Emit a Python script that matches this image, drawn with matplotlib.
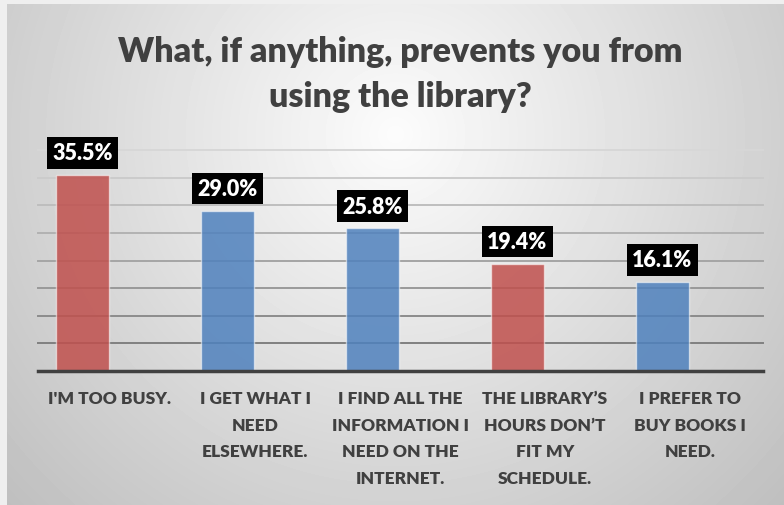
import numpy as np
import matplotlib.pyplot as plt
from matplotlib.colors import to_rgba

plt.rcParams['font.family'] = ['Lato', 'DejaVu Sans']

# data survey
categories = [
    "I'M TOO BUSY.",
    "I GET WHAT I\nNEED\nELSEWHERE.",
    "I FIND ALL THE\nINFORMATION I\nNEED ON THE\nINTERNET.",
    "THE LIBRARY\u2019S\nHOURS DON\u2019T\nFIT MY\nSCHEDULE.",
    "I PREFER TO\nBUY BOOKS I\nNEED.",
]
percent = [35.5, 29.0, 25.8, 19.4, 16.1]
bar_colors = ['#C0504D', '#4F81BD', '#4F81BD', '#C0504D', '#4F81BD']

title_lines = ['What, if anything, prevents you from', 'using the library?']
text_color = '#404040'

W, H = 784, 506
fig = plt.figure(figsize=(W / 100, H / 100), dpi=100)
fig.patch.set_facecolor('#efefef')


# latar belakang gradien radial
def background(fig):
    w, h = 777, 501
    bg = fig.add_axes([7 / W, 0, w / W, h / H])
    yy, xx = np.mgrid[0:h, 0:w]
    r = np.hypot(xx - 388, yy - 130)
    shade = np.clip(252 - 57 * r / 500, 0, 255) / 255
    bg.imshow(shade, cmap='gray', vmin=0, vmax=1, aspect='auto')
    bg.axis('off')


background(fig)

ax = fig.add_axes([37.5 / W, (H - 372) / H, 725 / W, 221 / H])
ax.patch.set_alpha(0)

x = np.arange(len(categories))
xb = x - 0.19
ax.bar(xb, percent, width=0.37,
       color=[to_rgba(c, 0.85) for c in bar_colors],
       edgecolor=(1, 1, 1, 0.55), linewidth=1, zorder=2)

ax.set_xlim(-0.5, len(categories) - 0.5)
ax.set_ylim(0, 40)
ticks = np.arange(0, 41, 5)
ax.set_yticks(ticks)
ax.yaxis.grid(True, linewidth=1.4)
ax.set_axisbelow(True)

# garis grid makin gelap ke bawah
for t, line in zip(ticks, ax.get_ygridlines()):
    g = 128 + (215 - 128) * (t - 5) / 35
    line.set_color((g / 255, g / 255, g / 255))
    line.set_clip_on(False)

for side in ['top', 'right', 'left']:
    ax.spines[side].set_visible(False)
ax.spines['bottom'].set_color(text_color)
ax.spines['bottom'].set_linewidth(2.5)
ax.spines['bottom'].set_zorder(3)

ax.tick_params(axis='y', left=False, labelleft=False)
ax.set_xticks(x, categories, fontsize=12.5, fontweight='heavy',
              color=text_color, linespacing=1.8)
ax.tick_params(axis='x', length=0, pad=14)

# label nilai di atas bar
for xi, v in zip(xb, percent):
    ax.annotate(f'{v:.1f}%', (xi, v), xytext=(0, 16), textcoords='offset points',
                ha='center', va='center', color='white', fontsize=15.5,
                fontweight='heavy', annotation_clip=False, zorder=4,
                bbox=dict(boxstyle='square,pad=0.25', fc='black', ec='none'))

fig.text(400 / W, 1 - 62 / H, title_lines[0], ha='center', va='baseline',
         fontsize=24.5, fontweight='heavy', color=text_color)
fig.text(400 / W, 1 - 107 / H, title_lines[1], ha='center', va='baseline',
         fontsize=24.5, fontweight='heavy', color=text_color)

fig.savefig('out.png', dpi=100)
